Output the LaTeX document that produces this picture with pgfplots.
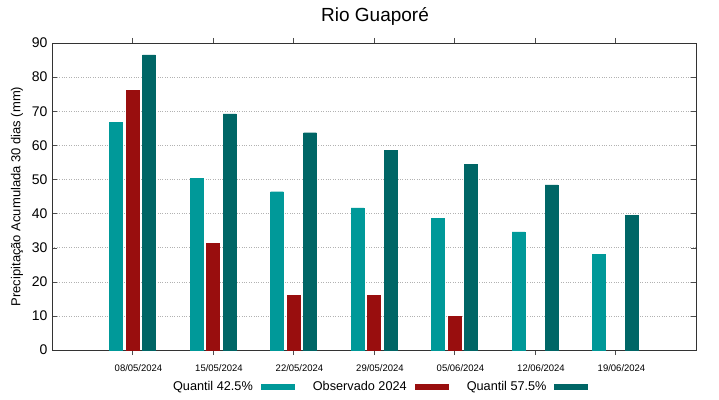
\documentclass[border=0pt]{standalone}
\usepackage{pgfplots}
\pgfplotsset{compat=1.18}
\usepackage{fontspec}
\setmainfont{Liberation Sans}
\definecolor{qa}{RGB}{0,153,153}
\definecolor{obs}{RGB}{153,14,14}
\definecolor{qb}{RGB}{0,102,102}
\begin{document}
\begin{tikzpicture}
\useasboundingbox (0,0) rectangle (719pt,399pt);
\node[font=\fontsize{19}{22}\selectfont] at (375pt,383pt) {Rio Guaporé};
\begin{axis}[
  at={(52pt,49pt)}, anchor=south west,
  scale only axis, width=644pt, height=307pt,
  xmin=-1, xmax=7, ymin=0, ymax=90,
  xtick={0,1,2,3,4,5,6},
  xticklabels={08/05/2024,15/05/2024,22/05/2024,29/05/2024,05/06/2024,12/06/2024,19/06/2024},
  ytick={0,10,...,90},
  tick align=inside, major tick length=5pt,
  tick style={black!70},
  x tick label style={font=\fontsize{9.5}{11}\selectfont, xshift=6pt, yshift=-6pt},
  y tick label style={font=\fontsize{14}{16}\selectfont, xshift=-1pt},
  /pgf/number format/assume math mode=true,
  ylabel={Precipitação Acumulada 30 dias (mm)},
  ylabel style={font=\fontsize{13}{15}\selectfont, at={(axis description cs:-0.0543,0.5)}, anchor=center},
  ymajorgrids, grid style={dotted, gray!60},
  axis line style={black!80},
  ybar, bar width=0.16,
  legend columns=3, legend plot pos=right,
  legend style={draw=none, fill=none, at={(axis description cs:0.509,-0.1205)}, anchor=center, font=\fontsize{12.7}{14}\selectfont,
    /tikz/every even column/.append style={column sep=16pt}},
  legend image code/.code={\path[draw=none,fill=none] (0pt,0pt) rectangle (40pt,0.1pt); \fill (6pt,-2.5pt) rectangle (39pt,2.5pt);},
]
\addplot[fill=qa, draw=qa, bar shift=-0.205] coordinates {(0,66.8) (1,50.4) (2,46.4) (3,41.7) (4,38.5) (5,34.6) (6,28.1)};
\addlegendentry{Quantil 42.5\%}
\addplot[fill=obs, draw=obs, bar shift=0] coordinates {(0,76.1) (1,31.3) (2,16.0) (3,16.0) (4,9.8)};
\addlegendentry{Observado 2024}
\addplot[fill=qb, draw=qb, bar shift=0.205] coordinates {(0,86.5) (1,69.2) (2,63.7) (3,58.6) (4,54.4) (5,48.4) (6,39.4)};
\addlegendentry{Quantil 57.5\%}
\end{axis}
\end{tikzpicture}
\end{document}
